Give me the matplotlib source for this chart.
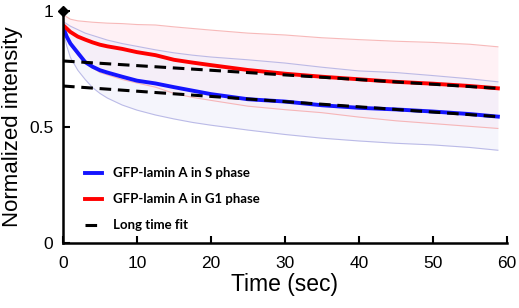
import matplotlib.pyplot as plt
import numpy as np

# time points (sec)
t = [0, 0.5, 1, 2, 3, 4, 5, 6, 8, 10, 12.5, 15, 17.5, 20, 25, 30, 35, 40, 45, 50, 55, 58.8]

# G1 phase (red): mean and band edges
g1_mean = [0.94, 0.925, 0.91, 0.89, 0.877, 0.865, 0.855, 0.848, 0.837, 0.823, 0.81, 0.79,
           0.778, 0.767, 0.746, 0.73, 0.717, 0.706, 0.695, 0.687, 0.677, 0.667]
g1_upper = [0.985, 0.975, 0.965, 0.958, 0.955, 0.952, 0.95, 0.948, 0.946, 0.942, 0.94, 0.932,
            0.925, 0.918, 0.905, 0.897, 0.885, 0.877, 0.87, 0.865, 0.857, 0.846]
g1_lower = [0.93, 0.89, 0.855, 0.81, 0.78, 0.755, 0.735, 0.725, 0.705, 0.69, 0.672, 0.645,
            0.628, 0.615, 0.59, 0.575, 0.562, 0.543, 0.527, 0.515, 0.503, 0.494]

# S phase (blue): mean and band edges
s_mean = [0.932, 0.89, 0.86, 0.82, 0.78, 0.76, 0.745, 0.735, 0.717, 0.70, 0.688, 0.672,
          0.657, 0.642, 0.62, 0.61, 0.594, 0.583, 0.576, 0.567, 0.556, 0.545]
s_upper = [0.955, 0.945, 0.935, 0.92, 0.905, 0.895, 0.885, 0.875, 0.86, 0.848, 0.833, 0.82,
           0.81, 0.802, 0.79, 0.776, 0.758, 0.742, 0.735, 0.722, 0.708, 0.695]
s_lower = [0.92, 0.85, 0.80, 0.745, 0.705, 0.67, 0.645, 0.625, 0.595, 0.573, 0.552, 0.535,
           0.52, 0.508, 0.487, 0.468, 0.452, 0.44, 0.43, 0.423, 0.412, 0.40]

# long time linear fits (endpoints)
fit_t = [0, 58.8]
g1_fit = [0.785, 0.667]
s_fit = [0.677, 0.545]

plt.rcParams['font.family'] = ['Liberation Sans', 'DejaVu Sans']

fig = plt.figure(figsize=(5.19, 3.08), dpi=100)
ax = fig.add_axes([0.1214, 0.211, 0.855, 0.753])

# shaded bands (very faint)
ax.fill_between(t, g1_lower, g1_upper, color='#fff1f5', lw=0)
ax.fill_between(t, s_lower, s_upper, color='#ececfb', alpha=0.5, lw=0)
for edge in (g1_upper, g1_lower):
    ax.plot(t, edge, color='#f5a8a8', lw=0.8, alpha=0.8)
for edge in (s_upper, s_lower):
    ax.plot(t, edge, color='#acace2', lw=0.8, alpha=0.8)

# means
ax.plot(t, s_mean, color='#1414ff', lw=2.8, label='GFP-lamin A in S phase')
ax.plot(t, g1_mean, color='#ff0000', lw=2.8, label='GFP-lamin A in G1 phase')

# fits
ax.plot(fit_t, g1_fit, color='black', lw=2.2, ls=(0, (3.8, 2.2)), label='Long time fit')
ax.plot(fit_t, s_fit, color='black', lw=2.2, ls=(0, (3.8, 2.2)))

# diamond on top of the y axis
ax.plot([0], [1], marker='D', color='black', ms=5, clip_on=False, zorder=10)

ax.set_xlim(0, 60)
ax.set_ylim(0, 1)
ax.set_xticks(np.arange(0, 61, 10))
ax.set_yticks([0, 0.5, 1])
ax.set_yticklabels(['0', '0.5', '1'])
ax.tick_params(direction='in', length=5, width=1.5, labelsize=12.5)
ax.tick_params(axis='x', pad=9)
ax.tick_params(axis='y', pad=7)

for side in ('top', 'right'):
    ax.spines[side].set_visible(False)
for side in ('left', 'bottom'):
    ax.spines[side].set_linewidth(1.8)

ax.set_xlabel('Time (sec)', fontsize=16.5, labelpad=2)
ax.set_ylabel('Normalized intensity', fontsize=16, labelpad=4)

leg = ax.legend(loc='lower left', bbox_to_anchor=(0.022, 0.0), frameon=False,
                prop={'family': 'Lato', 'weight': 'bold', 'size': 9.5},
                handlelength=1.3, handletextpad=0.85, labelspacing=1.05)

fig.savefig('out.png', dpi=100)
